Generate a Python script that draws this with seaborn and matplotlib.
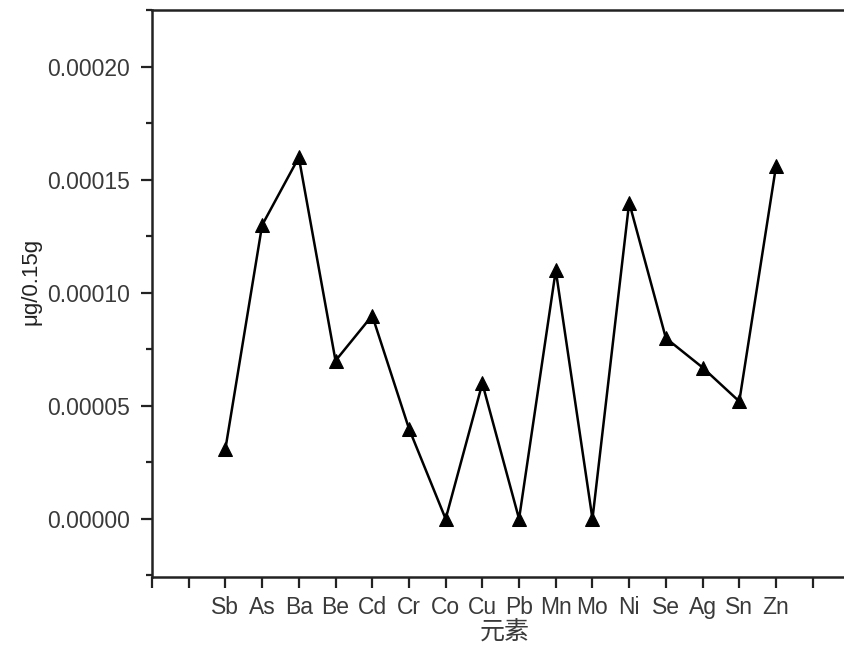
import numpy as np
import pandas as pd
import matplotlib
matplotlib.use("Agg")
import matplotlib.pyplot as plt
import seaborn as sns
from matplotlib.ticker import MultipleLocator, FormatStrFormatter

elements = ["Sb", "As", "Ba", "Be", "Cd", "Cr", "Co", "Cu", "Pb", "Mn",
            "Mo", "Ni", "Se", "Ag", "Sn", "Zn"]
values = [0.000031, 0.000130, 0.000160, 0.000070, 0.000090, 0.000040,
          0.0, 0.000060, 0.0, 0.000110, 0.0, 0.000140, 0.000080,
          0.000067, 0.000052, 0.000156]
tick_labels = ["", ""] + elements + ["", ""]
y_label = "μg/0.15g"
x_label = "元素"

sns.set_theme(style="ticks")
plt.rcParams["font.family"] = ["Liberation Sans", "Noto Sans CJK SC", "DejaVu Sans"]

df = pd.DataFrame({"pos": np.arange(2, 2 + len(elements)), "value": values})

W, H = 844, 655
fig = plt.figure(figsize=(W / 100, H / 100), dpi=100)
ax_w = 849.4 - 152
ax_h = 577 - 10
ax = fig.add_axes([152 / W, 1 - 577 / H, ax_w / W, ax_h / H])

sns.lineplot(data=df, x="pos", y="value", ax=ax, color="black", linewidth=1.8,
             marker="^", markersize=10, markeredgecolor="black",
             markerfacecolor="black", sort=False)

ax.set_xlim(0, len(tick_labels) - 1)
ax.set_ylim(-0.0000257, 0.0002252)
ax.set_xticks(np.arange(len(tick_labels)))
ax.set_xticklabels(tick_labels)
ax.yaxis.set_major_locator(MultipleLocator(0.00005))
ax.yaxis.set_minor_locator(MultipleLocator(0.000025))
ax.yaxis.set_major_formatter(FormatStrFormatter("%.5f"))

for s in ["left", "bottom", "top", "right"]:
    ax.spines[s].set_linewidth(1.8)
    ax.spines[s].set_color("#222222")

ax.tick_params(axis="both", which="major", length=8, width=1.6, color="#222222",
               labelsize=16.5, labelcolor="#3a3a3a", pad=8, direction="out")
ax.tick_params(axis="x", which="major", pad=6)
ax.tick_params(axis="y", which="minor", length=4.5, width=1.6, color="#222222")
ax.tick_params(top=False, right=False)

ax.set_xlabel(x_label, fontsize=18, color="#3a3a3a")
ax.set_ylabel(y_label, fontsize=16, color="#222222")
ax.xaxis.set_label_coords((505 - 152) / ax_w, -(621 - 577) / ax_h)
ax.yaxis.set_label_coords(-(152 - 42) / ax_w, (577 - 281) / ax_h)

fig.savefig("out.png", dpi=100)
